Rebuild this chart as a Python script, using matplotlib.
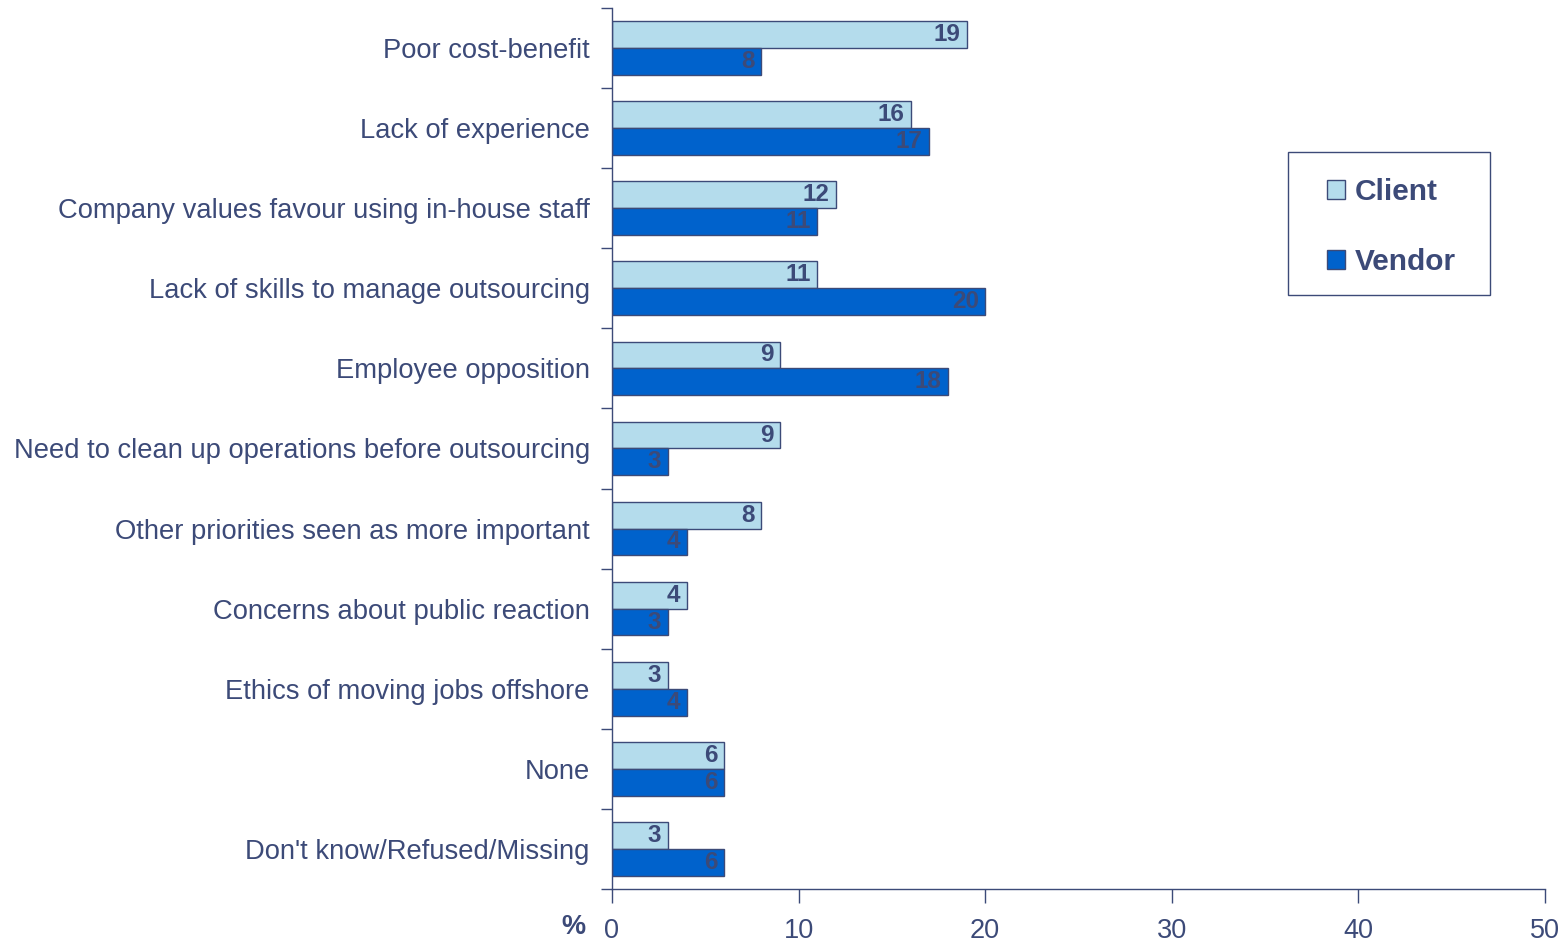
import numpy as np
import matplotlib.pyplot as plt
from matplotlib.patches import Rectangle

# data, top to bottom as in the chart
categories = [
    "Poor cost-benefit",
    "Lack of experience",
    "Company values favour using in-house staff",
    "Lack of skills to manage outsourcing",
    "Employee opposition",
    "Need to clean up operations before outsourcing",
    "Other priorities seen as more important",
    "Concerns about public reaction",
    "Ethics of moving jobs offshore",
    "None",
    "Don't know/Refused/Missing",
]
client = [19, 16, 12, 11, 9, 9, 8, 4, 3, 6, 3]
vendor = [8, 17, 11, 20, 18, 3, 4, 3, 4, 6, 6]
xticks = [0, 10, 20, 30, 40, 50]

navy = "#3C4A78"
light = "#B4DCEC"
blue = "#0062CC"

plt.rcParams['font.family'] = ['Liberation Sans', 'DejaVu Sans']

fig = plt.figure(figsize=(15.68, 9.44), dpi=100)
ax = fig.add_axes([0.3903, 0.0583, 0.5950, 0.9332])

y = np.arange(len(categories))
h = 0.335
b1 = ax.barh(y - h / 2, client, height=h, color=light, edgecolor=navy, linewidth=1.0, label="Client")
b2 = ax.barh(y + h / 2, vendor, height=h, color=blue, edgecolor=navy, linewidth=1.0, label="Vendor")

for bars, vals in ((b1, client), (b2, vendor)):
    for bar, v in zip(bars, vals):
        ax.text(v - 0.35, bar.get_y() + bar.get_height() / 2, str(v),
                ha='right', va='center', fontsize=17.5, fontweight='bold', color=navy)

ax.set_xlim(0, 50)
ax.set_ylim(len(categories) - 0.5, -0.5)

# boundaries as major ticks, labels on minor ticks
ax.set_yticks(np.arange(len(categories) + 1) - 0.5)
ax.set_yticklabels([])
ax.set_yticks(y, minor=True)
ax.set_yticklabels(categories, minor=True)
ax.tick_params(axis='y', which='major', length=8, width=1, color=navy, direction='out')
ax.tick_params(axis='y', which='minor', length=0, pad=16, labelsize=19.7, labelcolor=navy)

ax.set_xticks(xticks)
ax.set_xticklabels([str(t) for t in xticks])
ax.tick_params(axis='x', length=10, width=1, color=navy, direction='out', pad=11,
               labelsize=19.5, labelcolor=navy)

for s in ('top', 'right'):
    ax.spines[s].set_visible(False)
for s in ('left', 'bottom'):
    ax.spines[s].set_color(navy)
    ax.spines[s].set_linewidth(1)

fig.text(0.3655, 0.0175, "%", fontsize=19.5, fontweight='bold', color=navy, ha='center', va='center')

# legend box drawn separately, legend itself without frame
fig.patches.append(Rectangle((0.8214, 0.6875), 0.1289, 0.1515, transform=fig.transFigure,
                             facecolor='white', edgecolor=navy, linewidth=1, zorder=1))
leg = fig.legend(loc='upper left', bbox_to_anchor=(0.8463, 0.811),
                 frameon=False, prop={'size': 21.5, 'weight': 'bold'},
                 handlelength=0.6, handleheight=0.6, handletextpad=0.33,
                 labelspacing=1.4, borderpad=0, borderaxespad=0)
leg.set_zorder(2)
for t in leg.get_texts():
    t.set_color(navy)

fig.savefig("out.png", dpi=100)
